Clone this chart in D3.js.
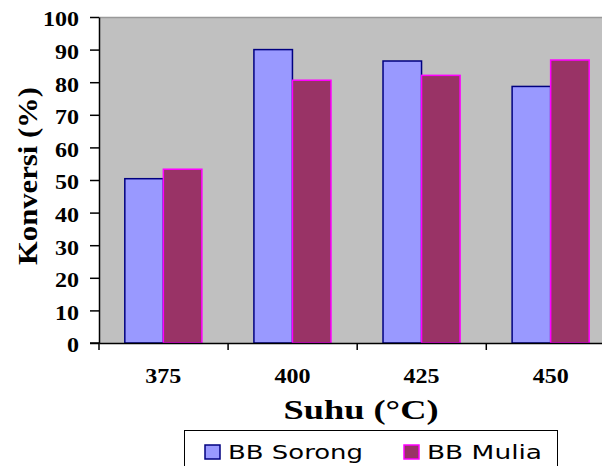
<!DOCTYPE html>
<html><head><meta charset="utf-8">
<script src="https://cdn.jsdelivr.net/npm/d3@7"></script>
<style>body{margin:0;background:#fff}svg{display:block}
.serif{font-family:"Times New Roman",Times,"Liberation Serif",Tinos,"Nimbus Roman","DejaVu Serif",serif;font-weight:bold}</style>
</head><body>
<script>
const categories = ["375", "400", "425", "450"];
const seriesNames = ["BB Sorong", "BB Mulia"];
const sorong = [50.4, 90, 86.5, 78.7];
const mulia = [53.3, 80.6, 82.1, 86.8];
const yTicks = [0, 10, 20, 30, 40, 50, 60, 70, 80, 90, 100];
const colors = {"BB Sorong": {fill: "#9999FF", stroke: "#000080"}, "BB Mulia": {fill: "#993366", stroke: "#FF00FF"}};

const W = 602, H = 466;
const m = {left: 99, top: 17, right: 615, bottom: 343};
const svg = d3.select("body").append("svg").attr("width", W).attr("height", H);

const x = d3.scaleBand().domain(categories).range([m.left, m.right]).paddingInner(0.403).paddingOuter(0.2);
const x1 = d3.scaleBand().domain(seriesNames).range([0, x.bandwidth()]);
const y = d3.scaleLinear().domain([0, 100]).range([m.bottom, m.top]);

// plot area
svg.append("rect").attr("x", m.left).attr("y", m.top).attr("width", m.right - m.left).attr("height", m.bottom - m.top).attr("fill", "#C0C0C0");
svg.append("line").attr("x1", m.left).attr("x2", m.right).attr("y1", m.top + 0.5).attr("y2", m.top + 0.5).attr("stroke", "#999").attr("stroke-width", 1.5);

// bars
const rows = categories.map((c, i) => ({cat: c, values: [{s: "BB Sorong", v: sorong[i]}, {s: "BB Mulia", v: mulia[i]}]}));
const g = svg.append("g").selectAll("g").data(rows).join("g").attr("transform", d => `translate(${x(d.cat)},0)`);
g.selectAll("rect").data(d => d.values).join("rect")
  .attr("x", d => x1(d.s)).attr("width", x1.bandwidth())
  .attr("y", d => y(d.v)).attr("height", d => y(0) - y(d.v))
  .attr("fill", d => colors[d.s].fill).attr("stroke", d => colors[d.s].stroke).attr("stroke-width", 1.5);

// y axis
const ya = svg.append("g").attr("transform", `translate(${m.left},0)`)
  .call(d3.axisLeft(y).tickValues(yTicks).tickSize(9).tickSizeOuter(0).tickPadding(11));
ya.attr("font-family", null);
ya.select(".domain").attr("stroke", "#000").attr("stroke-width", 1.5);
ya.selectAll(".tick line").attr("stroke", "#000").attr("stroke-width", 1.5);
ya.selectAll(".tick text").attr("class", "serif").attr("font-size", 21)
  .attr("fill", "#000").attr("dy", "0.42em")
  .attr("textLength", d => String(d).length * 12).attr("lengthAdjust", "spacingAndGlyphs");

// x axis
const xa = svg.append("g").attr("transform", `translate(0,${m.bottom})`)
  .call(d3.axisBottom(x).tickSize(0).tickSizeOuter(0));
xa.attr("font-family", null);
xa.select(".domain").attr("stroke", "#000").attr("stroke-width", 1.5);
xa.selectAll(".tick text").attr("class", "serif").attr("font-size", 21)
  .attr("fill", "#000").attr("y", 40).attr("dy", 0)
  .attr("textLength", d => d.length * 12).attr("lengthAdjust", "spacingAndGlyphs");
xa.append("line").attr("x1", m.left - 9).attr("x2", m.left).attr("y1", 0).attr("y2", 0).attr("stroke", "#000").attr("stroke-width", 1.5);
const bounds = d3.range(categories.length + 1).map(i => m.left + i * x.step());
xa.selectAll(".btick").data(bounds).join("line").attr("class", "btick")
  .attr("x1", d => d).attr("x2", d => d).attr("y1", 0).attr("y2", 7).attr("stroke", "#000").attr("stroke-width", 1.5);

// axis titles
svg.append("text").attr("class", "serif").attr("transform", "translate(37,176) rotate(-90)").attr("text-anchor", "middle")
  .attr("font-size", 27)
  .attr("textLength", 178).attr("lengthAdjust", "spacingAndGlyphs").text("Konversi (%)");
svg.append("text").attr("class", "serif").attr("x", 361).attr("y", 419).attr("text-anchor", "middle")
  .attr("font-size", 27)
  .attr("textLength", 155).attr("lengthAdjust", "spacingAndGlyphs").text("Suhu (°C)");

// legend
const lg = svg.append("g");
lg.append("rect").attr("x", 184.5).attr("y", 430.5).attr("width", 373).attr("height", 45).attr("fill", "#fff").attr("stroke", "#000").attr("stroke-width", 1);
const legendItems = [{s: "BB Sorong", sx: 205, tx: 228, tw: 135}, {s: "BB Mulia", sx: 404, tx: 427, tw: 115}];
legendItems.forEach(it => {
  lg.append("rect").attr("x", it.sx).attr("y", 445).attr("width", 15).attr("height", 14)
    .attr("fill", colors[it.s].fill).attr("stroke", colors[it.s].stroke).attr("stroke-width", 1.5);
  lg.append("text").attr("x", it.tx).attr("y", 459).attr("font-family", "'DejaVu Sans',Verdana,sans-serif").attr("font-size", 19)
    .attr("textLength", it.tw).attr("lengthAdjust", "spacingAndGlyphs").attr("fill", "#000").text(it.s);
});
</script>
</body></html>
